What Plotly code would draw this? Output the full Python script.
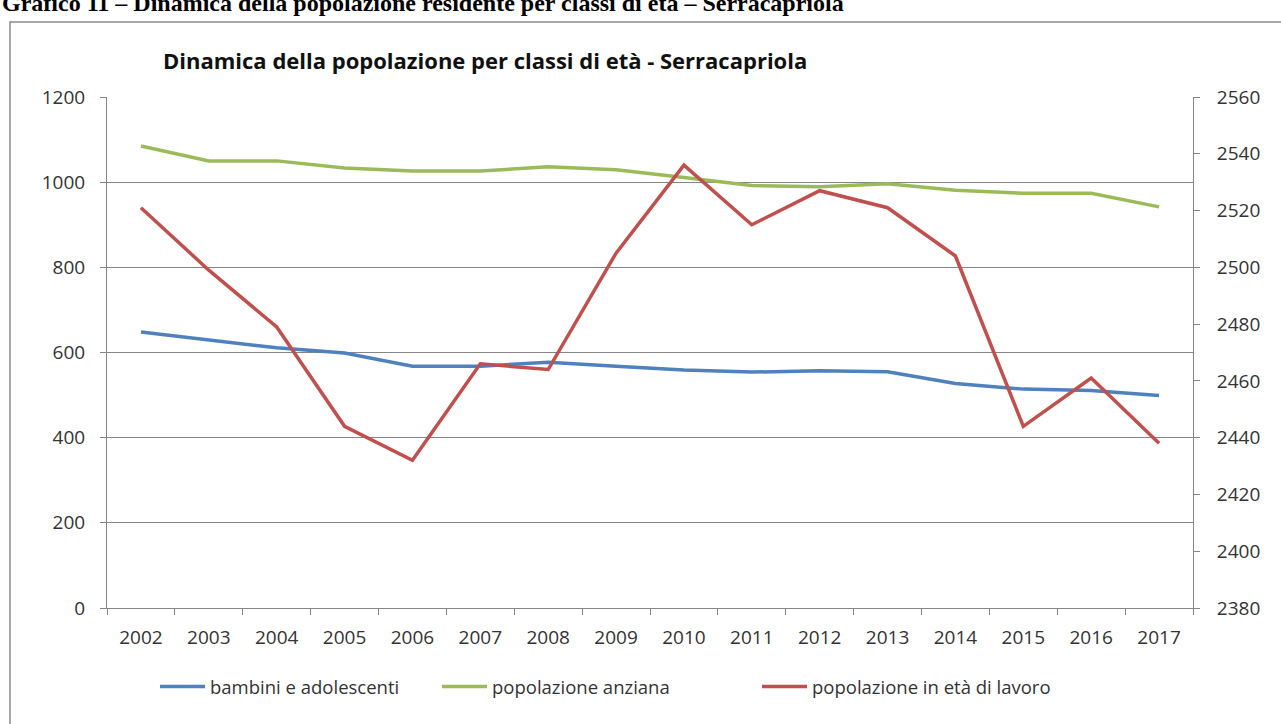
import plotly.graph_objects as go

years = ["2002", "2003", "2004", "2005", "2006", "2007", "2008", "2009",
         "2010", "2011", "2012", "2013", "2014", "2015", "2016", "2017"]
bambini = [648, 629, 611, 599, 568, 568, 577, 568, 559, 554, 557, 555, 527, 514, 511, 499]
anziani = [1085, 1050, 1050, 1033, 1026, 1026, 1036, 1029, 1011, 992, 989, 996, 981, 974, 974, 942]
lavoro = [2521, 2499, 2479, 2444, 2432, 2466, 2464, 2505, 2536, 2515, 2527, 2521, 2504, 2444, 2461, 2438]

left_ticks = [0, 200, 400, 600, 800, 1000, 1200]
right_ticks = [2380, 2400, 2420, 2440, 2460, 2480, 2500, 2520, 2540, 2560]

FONT = "Open Sans"
W, H = 1281, 724
L, R, T, B = 107, 88, 97, 116
PW, PH = W - L - R, H - T - B


def px(x):
    return (x - L) / PW


def py(y):
    return (H - B - y) / PH


TICKFONT = dict(family=FONT, size=19, color="#333333")

fig = go.Figure()
fig.add_trace(go.Scatter(x=years, y=bambini, name="bambini e adolescenti", mode="lines",
                         line=dict(color="#4F81BD", width=3.5), legendwidth=222))
fig.add_trace(go.Scatter(x=years, y=anziani, name="popolazione anziana", mode="lines",
                         line=dict(color="#9BBB59", width=3.5), legendwidth=260))
fig.add_trace(go.Scatter(x=years, y=lavoro, name="popolazione in età di lavoro", mode="lines",
                         line=dict(color="#C0504D", width=3.5), yaxis="y2"))

fig.update_layout(
    width=W, height=H,
    margin=dict(l=L, r=R, t=T, b=B, autoexpand=False),
    paper_bgcolor="white", plot_bgcolor="white",
    font=dict(family=FONT, size=18, color="#333333"),
    showlegend=True,
    legend=dict(orientation="h", x=px(155), y=py(687), xanchor="left", yanchor="middle",
                font=dict(family=FONT, size=18.5, color="#333333"), itemwidth=45,
                bgcolor="rgba(0,0,0,0)"),
    xaxis=dict(type="category", range=[-0.5, 15.5], showline=True, linecolor="#868686",
               linewidth=1, ticks="outside", tickson="boundaries", ticklen=6,
               tickcolor="#868686", showgrid=False, ticklabelstandoff=12,
               tickfont=TICKFONT),
    yaxis=dict(range=[0, 1200], tickvals=left_ticks, showline=True, linecolor="#868686",
               linewidth=1, ticks="outside", ticklen=6, tickcolor="#868686",
               showgrid=True, gridcolor="#868686", gridwidth=1, zeroline=False,
               ticklabelstandoff=11, tickfont=TICKFONT),
    yaxis2=dict(range=[2380, 2560], tickvals=right_ticks, overlaying="y", side="right",
                showline=True, linecolor="#868686", linewidth=1, ticks="outside",
                ticklen=6, tickcolor="#868686", showgrid=False, zeroline=False,
                ticklabelstandoff=13, tickfont=TICKFONT),
    shapes=[dict(type="rect", xref="paper", yref="paper", x0=px(10), x1=px(1300),
                 y0=py(760), y1=py(22), line=dict(color="#8a8a8a", width=1.5),
                 fillcolor="rgba(0,0,0,0)", layer="below")],
    annotations=[
        dict(text="<b>Dinamica della popolazione per classi di età - Serracapriola</b>",
             xref="paper", yref="paper", x=px(485), y=py(60), xanchor="center",
             yanchor="middle", showarrow=False,
             font=dict(family=FONT, size=22, color="#111111")),
        dict(text="<b>Grafico 11 – Dinamica della popolazione residente per classi di età – Serracapriola</b>",
             xref="paper", yref="paper", x=px(0), y=py(3), xanchor="left",
             yanchor="middle", showarrow=False,
             font=dict(family="Liberation Serif", size=24, color="#000000")),
    ],
)

fig.write_html("out.html")
